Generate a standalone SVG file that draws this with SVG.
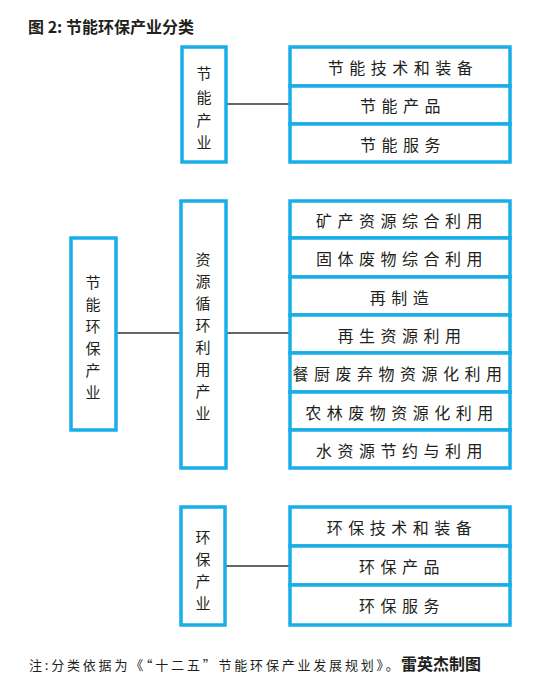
<svg xmlns="http://www.w3.org/2000/svg" width="535" height="685" viewBox="0 0 535 685">
<style>
.bx{fill:#fff;stroke:#1aaee8;stroke-width:3.5}
.t{font-family:"Noto Sans CJK SC","Noto Sans",sans-serif;font-size:16px;fill:#231f20;text-anchor:middle;dominant-baseline:central}
.v{font-size:15px}
.r{letter-spacing:5.5px}
.ln{stroke:#333;stroke-width:1.4;fill:none}
.ttl{font-family:"Noto Sans CJK SC","Noto Sans",sans-serif;font-size:16px;font-weight:bold;fill:#231f20}
.fn{font-family:"Noto Sans CJK SC","Noto Sans",sans-serif;font-size:13px;fill:#231f20;letter-spacing:2.8px}
.fb{font-family:"Noto Sans CJK SC","Noto Sans",sans-serif;font-size:16px;font-weight:bold;fill:#231f20}
</style>
<rect width="535" height="685" fill="#fff"/>
<text class="ttl" x="28" y="33">图 2: 节能环保产业分类</text>

<g id="connectors">
<line class="ln" x1="226" y1="104" x2="290" y2="104"/>
<line class="ln" x1="116" y1="333" x2="181" y2="333"/>
<line class="ln" x1="226" y1="333" x2="290" y2="333"/>
<line class="ln" x1="225" y1="566" x2="290" y2="566" stroke="#777"/>
</g>

<g id="jieneng">
<rect class="bx" x="182" y="47" width="44" height="115"/>
<text class="t v"><tspan x="204" y="72">节</tspan><tspan x="204" y="96">能</tspan><tspan x="204" y="119">产</tspan><tspan x="204" y="141">业</tspan></text>
</g>
<g id="jieneng-items">
<rect class="bx" x="290" y="47" width="220" height="39"/>
<rect class="bx" x="290" y="86" width="220" height="38"/>
<rect class="bx" x="290" y="124" width="220" height="38"/>
<text class="t r" x="403" y="67">节能技术和装备</text>
<text class="t r" x="403" y="105">节能产品</text>
<text class="t r" x="403" y="144">节能服务</text>
</g>

<g id="root">
<rect class="bx" x="71" y="238" width="45" height="192"/>
<text class="t v"><tspan x="93" y="281">节</tspan><tspan x="93" y="303">能</tspan><tspan x="93" y="325">环</tspan><tspan x="93" y="347">保</tspan><tspan x="93" y="369">产</tspan><tspan x="93" y="391">业</tspan></text>
</g>

<g id="ziyuan">
<rect class="bx" x="181" y="201" width="45" height="267"/>
<text class="t v"><tspan x="203" y="258">资</tspan><tspan x="203" y="280">源</tspan><tspan x="203" y="302">循</tspan><tspan x="203" y="324">环</tspan><tspan x="203" y="346">利</tspan><tspan x="203" y="368">用</tspan><tspan x="203" y="390">产</tspan><tspan x="203" y="412">业</tspan></text>
</g>
<g id="ziyuan-items">
<rect class="bx" x="290" y="201" width="220" height="37"/>
<rect class="bx" x="290" y="238" width="220" height="39"/>
<rect class="bx" x="290" y="277" width="220" height="38"/>
<rect class="bx" x="290" y="315" width="220" height="38"/>
<rect class="bx" x="290" y="353" width="220" height="39"/>
<rect class="bx" x="290" y="392" width="220" height="38"/>
<rect class="bx" x="290" y="430" width="220" height="38"/>
<text class="t r" x="402" y="220">矿产资源综合利用</text>
<text class="t r" x="402" y="258">固体废物综合利用</text>
<text class="t r" x="402" y="297">再制造</text>
<text class="t r" x="402" y="335">再生资源利用</text>
<text class="t r" x="400" y="373">餐厨废弃物资源化利用</text>
<text class="t r" x="402" y="412">农林废物资源化利用</text>
<text class="t r" x="402" y="450">水资源节约与利用</text>
</g>

<g id="huanbao">
<rect class="bx" x="181" y="507" width="44" height="118"/>
<text class="t v"><tspan x="203" y="536">环</tspan><tspan x="203" y="558">保</tspan><tspan x="203" y="580">产</tspan><tspan x="203" y="602">业</tspan></text>
</g>
<g id="huanbao-items">
<rect class="bx" x="290" y="507" width="220" height="39"/>
<rect class="bx" x="290" y="546" width="220" height="39"/>
<rect class="bx" x="290" y="585" width="220" height="40"/>
<text class="t r" x="402" y="527">环保技术和装备</text>
<text class="t r" x="402" y="566">环保产品</text>
<text class="t r" x="402" y="605">环保服务</text>
</g>

<text class="fn" x="29" y="670">注:分类依据为《“十二五”节能环保产业发展规划》。</text>
<text class="fb" x="401" y="670">雷英杰制图</text>
</svg>
